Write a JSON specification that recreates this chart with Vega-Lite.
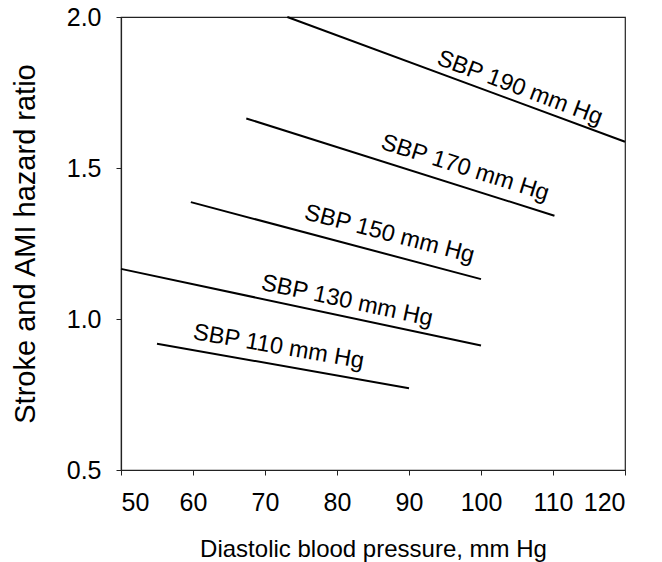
{
  "$schema": "https://vega.github.io/schema/vega-lite/v6.json",
  "autosize": "none",
  "width": 504,
  "height": 453,
  "padding": {"left": 121, "top": 17, "right": 37, "bottom": 92},
  "background": "white",
  "config": {
    "font": "Liberation Sans",
    "view": {"stroke": "#222", "strokeWidth": 1.2},
    "axis": {
      "grid": false,
      "domainColor": "#222",
      "domainWidth": 1.2,
      "tickColor": "#222",
      "tickSize": 5,
      "labelFont": "Liberation Sans",
      "labelFontSize": 25,
      "labelColor": "black",
      "titleFont": "Liberation Sans",
      "titleFontWeight": "normal",
      "titleColor": "black"
    }
  },
  "datasets": {
    "lines": [
      {"sbp": "110", "dbp": 55, "hr": 0.918},
      {"sbp": "110", "dbp": 90, "hr": 0.771},
      {"sbp": "130", "dbp": 50, "hr": 1.166},
      {"sbp": "130", "dbp": 100, "hr": 0.912},
      {"sbp": "150", "dbp": 59.7, "hr": 1.387},
      {"sbp": "150", "dbp": 100, "hr": 1.132},
      {"sbp": "170", "dbp": 67.4, "hr": 1.664},
      {"sbp": "170", "dbp": 110.2, "hr": 1.342},
      {"sbp": "190", "dbp": 73.1, "hr": 2.0},
      {"sbp": "190", "dbp": 120, "hr": 1.587}
    ],
    "labels": [
      {"text": "SBP 190 mm Hg", "dbp": 105.4, "hr": 1.765, "ang": 20.5},
      {"text": "SBP 170 mm Hg", "dbp": 97.8, "hr": 1.5, "ang": 17.5},
      {"text": "SBP 150 mm Hg", "dbp": 87.3, "hr": 1.281, "ang": 14.6},
      {"text": "SBP 130 mm Hg", "dbp": 81.4, "hr": 1.06, "ang": 12},
      {"text": "SBP 110 mm Hg", "dbp": 71.9, "hr": 0.908, "ang": 9.8}
    ]
  },
  "layer": [
    {
      "data": {"name": "lines"},
      "mark": {"type": "line", "color": "black", "strokeWidth": 2},
      "encoding": {
        "x": {
          "field": "dbp", "type": "quantitative",
          "scale": {"domain": [50, 120], "nice": false, "zero": false},
          "axis": {"values": [50, 60, 70, 80, 90, 100, 110, 120], "labelPadding": 15, "title": "Diastolic blood pressure, mm Hg", "titleFontSize": 24, "titlePadding": 22}
        },
        "y": {
          "field": "hr", "type": "quantitative",
          "scale": {"domain": [0.5, 2.0], "nice": false, "zero": false},
          "axis": {"values": [0.5, 1.0, 1.5, 2.0], "format": ".1f", "labelPadding": 15, "title": "Stroke and AMI hazard ratio", "titleFontSize": 29, "titlePadding": 26}
        },
        "detail": {"field": "sbp"}
      }
    },
    {
      "data": {"name": "labels"},
      "mark": {"type": "text", "fontSize": 23.5, "align": "center", "baseline": "middle", "color": "black", "font": "Liberation Sans"},
      "encoding": {
        "x": {"field": "dbp", "type": "quantitative"},
        "y": {"field": "hr", "type": "quantitative"},
        "text": {"field": "text"},
        "angle": {"field": "ang", "type": "quantitative", "scale": null}
      }
    }
  ]
}
